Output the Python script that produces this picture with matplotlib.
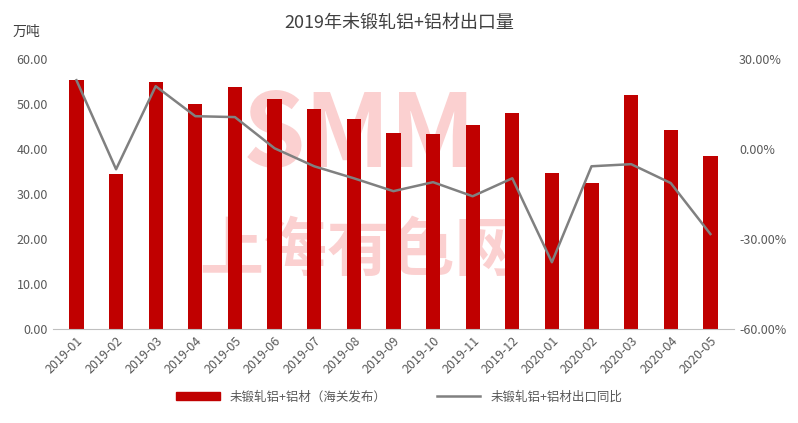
import matplotlib
matplotlib.use("Agg")
import matplotlib.pyplot as plt
from matplotlib.patches import Patch
from matplotlib.lines import Line2D

plt.rcParams['font.family'] = ['Noto Sans CJK SC', 'DejaVu Sans']

months = ['2019-01', '2019-02', '2019-03', '2019-04', '2019-05', '2019-06', '2019-07', '2019-08',
          '2019-09', '2019-10', '2019-11', '2019-12', '2020-01', '2020-02', '2020-03', '2020-04', '2020-05']
exports = [55.3, 34.4, 54.9, 50.0, 53.8, 51.1, 48.9, 46.7, 43.6, 43.3, 45.3, 48.0,
           34.7, 32.4, 52.0, 44.2, 38.4]
yoy = [23.0, -6.7, 21.0, 11.0, 10.7, 0.3, -5.7, -9.7, -14.0, -11.0, -15.7, -9.7,
       -37.7, -5.7, -5.0, -11.3, -28.3]

fig = plt.figure(figsize=(7.98, 4.23), dpi=100)
ax = fig.add_axes([0.066, 0.222, 0.854, 0.638])
x = list(range(len(months)))
ax.bar(x, exports, width=0.36, color='#c00000', zorder=2)
ax.set_ylim(0, 60)
ax.set_yticks(range(0, 61, 10))
ax.set_yticklabels([f'{v:.2f}' for v in range(0, 61, 10)])
ax.set_xlim(-0.6, len(months) - 0.4)
ax.set_xticks(x)
ax.set_xticklabels(months, rotation=45, ha='right', rotation_mode='anchor')
for s in ['top', 'right', 'left']:
    ax.spines[s].set_visible(False)
ax.spines['bottom'].set_color('#bfbfbf')
ax.tick_params(length=0, labelsize=9, colors='#595959')

# watermark behind the bars
ax.text(0.45, 0.71, 'SMM', transform=ax.transAxes, fontsize=72, fontweight='bold',
        color='#fbd0d0', ha='center', va='center', zorder=0)
ax.text(0.45, 0.29, '上海有色网', transform=ax.transAxes, fontsize=46, fontweight='bold',
        color='#fbd0d0', ha='center', va='center', zorder=0)

ax2 = ax.twinx()
ax2.plot(x, yoy, color='#808080', lw=1.8, zorder=3)
ax2.set_ylim(-60, 30)
ax2.set_yticks(range(-60, 31, 30))
ax2.set_yticklabels([f'{v:.2f}%' for v in range(-60, 31, 30)])
for s in ['top', 'right', 'left', 'bottom']:
    ax2.spines[s].set_visible(False)
ax2.tick_params(length=0, labelsize=9, colors='#595959')

fig.text(0.5, 0.935, '2019年未锻轧铝+铝材出口量', ha='center', fontsize=13, color='#404040')
fig.text(0.016, 0.915, '万吨', fontsize=10, color='#404040')

handles = [Patch(color='#c00000'), Line2D([], [], color='#808080', lw=1.8)]
fig.legend(handles, ['未锻轧铝+铝材（海关发布）', '未锻轧铝+铝材出口同比'], loc='lower center',
           bbox_to_anchor=(0.5, 0.02), ncol=2, frameon=False, fontsize=9,
           handlelength=3.5, handleheight=0.6, columnspacing=4, labelcolor='#595959')

fig.savefig('out.png', dpi=100)
